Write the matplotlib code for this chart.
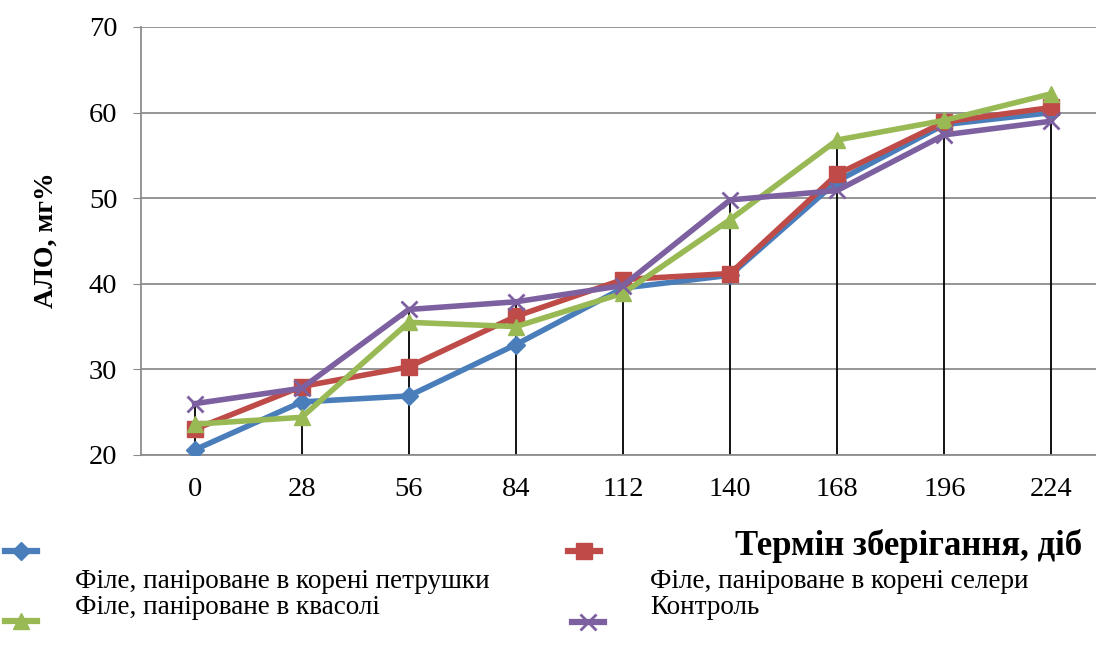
import matplotlib
matplotlib.use("Agg")
import matplotlib.pyplot as plt
from matplotlib.lines import Line2D

plt.rcParams['font.family'] = ['Liberation Serif', 'DejaVu Serif']

days = ["0", "28", "56", "84", "112", "140", "168", "196", "224"]
parsley = [20.6, 26.2, 26.9, 32.9, 39.5, 41.0, 52.0, 58.6, 60.0]
celery = [23.0, 28.0, 30.3, 36.2, 40.5, 41.2, 52.8, 58.9, 60.6]
beans = [23.6, 24.4, 35.5, 35.0, 38.9, 47.5, 56.8, 59.1, 62.2]
control = [26.0, 27.8, 37.0, 37.9, 39.8, 49.8, 50.9, 57.4, 59.0]

series_names = [
    "Філе, паніроване в корені петрушки",
    "Філе, паніроване в корені селери",
    "Філе, паніроване в квасолі",
    "Контроль",
]
colors = ["#4A7EBB", "#BE4B48", "#98B954", "#7D60A0"]
markers = ["D", "s", "^", "x"]
msizes = [9, 12, 11, 12]

W, H = 1096, 648
fig = plt.figure(figsize=(W / 100, H / 100), dpi=100)
ax = fig.add_axes([141 / W, 1 - 455 / H, (1105 - 141) / W, (455 - 27) / H])

x = list(range(len(days)))
all_series = [parsley, celery, beans, control]

# drop lines from the highest value down to the category axis
tops = [max(vals) for vals in zip(*all_series)]
ax.vlines(x, 20, tops, color="black", lw=1.3, zorder=2)

for vals, c, m, ms in zip(all_series, colors, markers, msizes):
    ax.plot(x, vals, color=c, lw=4.0, marker=m, markersize=ms,
            markeredgewidth=2 if m == "x" else 1, markeredgecolor=c,
            zorder=3, solid_joinstyle="round")

ax.set_xlim(-0.5, len(days) - 0.5)
ax.set_ylim(20, 70)
ax.set_yticks(range(20, 71, 10))
ax.set_xticks(x)
ax.set_xticklabels(days)
ax.grid(axis="y", color="#8c8c8c", lw=1.3)
ax.set_axisbelow(True)
for s in ["top", "right"]:
    ax.spines[s].set_visible(False)
ax.spines["left"].set_color("#8c8c8c")
ax.spines["bottom"].set_color("#8c8c8c")
ax.spines["left"].set_linewidth(1.3)
ax.spines["bottom"].set_linewidth(1.3)
ax.tick_params(axis="y", length=6, color="#8c8c8c", labelsize=20.5, pad=11)
ax.tick_params(axis="x", length=0, labelsize=20.5, pad=16)

fig.text(46 / W, 1 - 240 / H, "АЛО, мг%", rotation=90, fontsize=20,
         fontweight="bold", ha="center", va="center")
fig.text(1082 / W, 1 - 546 / H, "Термін зберігання, діб", fontsize=25,
         fontweight="bold", ha="right", va="center")

# legend entries: handle sits above its label
legend_items = [
    (0, 5, 551, 75, 581),
    (1, 568, 551, 650, 581),
    (2, 5, 621, 75, 608),
    (3, 572, 622, 650, 608),
]
for idx, hx, hy, tx, ty in legend_items:
    yy = 1 - hy / H
    fig.add_artist(Line2D([hx / W, (hx + 32) / W], [yy, yy], color=colors[idx],
                          lw=4.5, transform=fig.transFigure))
    fig.add_artist(Line2D([(hx + 16) / W], [yy], color=colors[idx],
                          marker=markers[idx], markersize=msizes[idx],
                          markeredgewidth=2 if markers[idx] == "x" else 1,
                          markeredgecolor=colors[idx], transform=fig.transFigure))
    fig.text(tx / W, 1 - ty / H, series_names[idx], fontsize=19.5,
             ha="left", va="center")

fig.savefig("out.png", dpi=100)
